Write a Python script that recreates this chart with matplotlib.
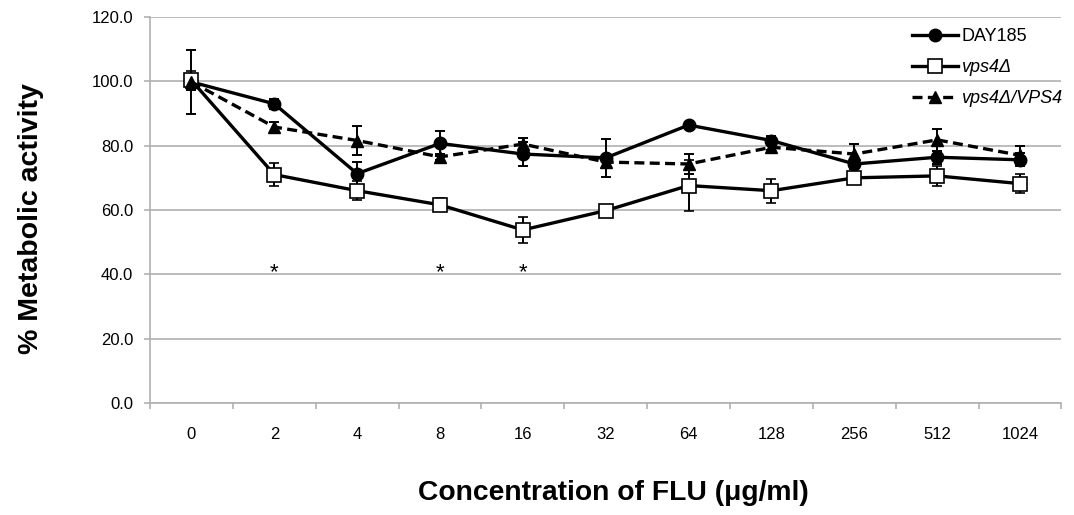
import matplotlib
matplotlib.use("Agg")
import matplotlib.pyplot as plt
from matplotlib.lines import Line2D
import numpy as np

plt.rcParams['font.family'] = ['Liberation Sans', 'DejaVu Sans']

# data
conc = ['0', '2', '4', '8', '16', '32', '64', '128', '256', '512', '1024']
day185 = [99.8, 93.0, 71.3, 80.7, 77.4, 76.2, 86.4, 81.6, 74.3, 76.4, 75.6]
day185_err = [10.0, 1.5, 3.7, 3.8, 3.7, 6.0, 0.8, 1.5, 1.5, 2.0, 2.0]
vps4 = [100.3, 71.0, 66.0, 61.6, 53.8, 59.8, 67.6, 66.0, 70.0, 70.6, 68.2]
vps4_err = [3.0, 3.6, 3.0, 2.0, 4.0, 1.0, 8.0, 3.7, 1.5, 3.0, 3.0]
comp = [99.8, 85.8, 81.6, 76.5, 80.5, 74.9, 74.3, 79.5, 77.4, 81.8, 77.0]
comp_err = [2.5, 1.5, 4.5, 1.0, 2.0, 1.5, 3.0, 1.0, 3.0, 3.5, 3.0]
star_pos = [1, 3, 4]  # significant points

x = np.arange(len(conc))
grey = '#b0b0b0'
dash = (0, (3, 1.6))

fig = plt.figure(figsize=(10.74, 5.15), dpi=100)
ax = fig.add_axes([0.1397, 0.2175, 0.8486, 0.7495])

ax.errorbar(x, day185, yerr=day185_err, color='black', lw=2.4, marker='o', ms=9,
            mfc='black', mec='black', ecolor='black', elinewidth=1.4, capsize=3.5,
            capthick=1.4, zorder=3)
ax.errorbar(x, vps4, yerr=vps4_err, color='black', lw=2.4, marker='s', ms=9.5,
            mfc='white', mec='black', mew=1.2, ecolor='black', elinewidth=1.4,
            capsize=3.5, capthick=1.4, zorder=3)
ax.errorbar(x, comp, yerr=comp_err, color='black', lw=2.4, ls=dash,
            marker='^', ms=9, mfc='black', mec='black', ecolor='black',
            elinewidth=1.4, capsize=3.5, capthick=1.4, zorder=3)

for i in star_pos:
    ax.text(x[i], 40.5, '*', ha='center', va='center', fontsize=16)

ax.set_xlim(-0.5, len(conc) - 0.5)
ax.set_ylim(0, 120)
ax.set_yticks(np.arange(0, 121, 20))
ax.set_yticklabels(['%.1f' % v for v in np.arange(0, 121, 20)], fontsize=12)
ax.set_xticks(x)
ax.set_xticklabels(conc, fontsize=12)
ax.set_xticks(np.arange(-0.5, len(conc), 1), minor=True)
ax.tick_params(axis='x', which='major', length=0, pad=17)
ax.tick_params(axis='x', which='minor', length=4, color=grey, width=1.2)
ax.tick_params(axis='y', length=4, color=grey, width=1.2, pad=8)

ax.yaxis.grid(True, color=grey, lw=1.2)
ax.set_axisbelow(True)
for s in ['top', 'right']:
    ax.spines[s].set_visible(False)
for s in ['left', 'bottom']:
    ax.spines[s].set_color(grey)
    ax.spines[s].set_linewidth(1.2)

ax.set_xlabel('Concentration of FLU (\u03bcg/ml)', fontsize=20.3, fontweight='bold')
ax.xaxis.set_label_coords(0.508, -0.233)
ax.xaxis.label.set_va('center')
ax.set_ylabel('% Metabolic activity', fontsize=20.5, fontweight='bold')
ax.yaxis.set_label_coords(-0.116, 0.479)

handles = [
    Line2D([], [], color='black', lw=2.4, marker='o', ms=9),
    Line2D([], [], color='black', lw=2.4, marker='s', ms=9.5, mfc='white', mew=1.2),
    Line2D([], [], color='black', lw=2.4, ls=dash, marker='^', ms=9),
]
labels = ['DAY185', 'vps4\u0394', 'vps4\u0394/VPS4']
leg = fig.legend(handles, labels, loc='upper left', bbox_to_anchor=(0.849, 0.945),
                 frameon=False, fontsize=13, handlelength=2.55, labelspacing=0.78,
                 handletextpad=0.2, borderpad=0, borderaxespad=0)
for t in leg.get_texts()[1:]:
    t.set_fontstyle('italic')

fig.savefig('out.png', dpi=100)
